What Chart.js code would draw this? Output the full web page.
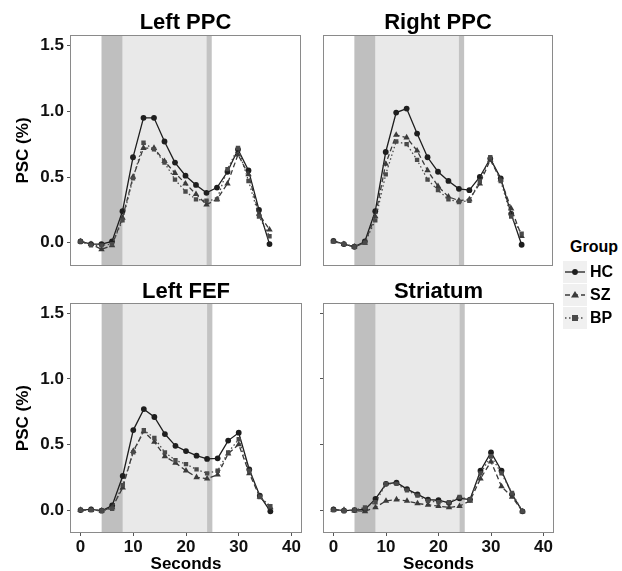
<!DOCTYPE html>
<html><head><meta charset="utf-8">
<script src="https://cdn.jsdelivr.net/npm/chart.js@4"></script>
<style>
html,body{margin:0;padding:0;width:622px;height:571px;overflow:hidden;background:#fff;font-family:"Liberation Sans",Arial,sans-serif;}
.c{position:absolute;}
.t{position:absolute;font-weight:bold;font-size:22px;line-height:22px;color:#000;white-space:nowrap;transform:translateX(-50%);}
.lg{position:absolute;font-weight:bold;font-size:16px;line-height:16px;color:#000;white-space:nowrap;}
.key{position:absolute;}
</style></head><body>
<div id="holder"></div>
<div class="t" style="left:185.5px;top:11px">Left PPC</div>
<div class="t" style="left:438px;top:11px">Right PPC</div>
<div class="t" style="left:186px;top:280px">Left FEF</div>
<div class="t" style="left:438.5px;top:280px">Striatum</div>
<div class="lg" style="left:570px;top:239px">Group</div>
<canvas id="k0" class="key" width="24" height="22" style="left:563px;top:261px"></canvas>
<canvas id="k1" class="key" width="24" height="22" style="left:563px;top:284px"></canvas>
<canvas id="k2" class="key" width="24" height="22" style="left:563px;top:307px"></canvas>
<div class="lg" style="left:590px;top:264px">HC</div>
<div class="lg" style="left:590px;top:287px">SZ</div>
<div class="lg" style="left:590px;top:310px">BP</div>
<script>
// ---- data ----
const seconds = [0,2,4,6,8,10,12,14,16,18,20,22,24,26,28,30,32,34,36];
const groups = ["HC","SZ","BP"];
const xTicks = [0,10,20,30,40];
const yTicks = [0,0.5,1.0,1.5];
const bandStart = [8,4,24];
const bandEnd   = [24,8,25];

const leftPPC_HC = [0.01,-0.01,-0.01,0.01,0.24,0.65,0.95,0.95,0.77,0.61,0.51,0.44,0.38,0.42,0.54,0.71,0.55,0.25,-0.01];
const leftPPC_SZ = [0.01,-0.01,-0.05,-0.02,0.19,0.50,0.72,0.72,0.62,0.53,0.45,0.37,0.29,0.33,0.45,0.67,0.52,0.22,0.10];
const leftPPC_BP = [0.01,-0.02,-0.02,-0.01,0.17,0.49,0.76,0.71,0.61,0.48,0.39,0.33,0.32,0.33,0.56,0.72,0.47,0.20,0.05];

const rightPPC_HC = [0.015,-0.01,-0.03,0.01,0.24,0.69,0.99,1.02,0.83,0.65,0.54,0.47,0.41,0.40,0.50,0.64,0.49,0.22,-0.015];
const rightPPC_SZ = [0.01,-0.01,-0.03,0.00,0.20,0.60,0.82,0.80,0.70,0.55,0.43,0.35,0.32,0.33,0.45,0.63,0.48,0.26,0.05];
const rightPPC_BP = [0.01,-0.01,-0.03,0.00,0.17,0.52,0.77,0.75,0.63,0.48,0.40,0.33,0.31,0.32,0.47,0.65,0.47,0.20,0.07];

const leftFEF_HC = [0.00,0.005,-0.005,0.035,0.26,0.61,0.77,0.71,0.58,0.49,0.45,0.415,0.39,0.395,0.53,0.59,0.31,0.11,-0.01];
const leftFEF_SZ = [0.00,0.00,-0.005,0.02,0.17,0.45,0.60,0.52,0.41,0.36,0.30,0.25,0.24,0.27,0.43,0.50,0.28,0.10,0.02];
const leftFEF_BP = [0.00,0.00,-0.005,0.01,0.19,0.44,0.61,0.55,0.44,0.38,0.35,0.31,0.28,0.30,0.44,0.54,0.30,0.10,0.03];

const striatum_HC = [0.005,-0.005,0.00,0.005,0.085,0.20,0.21,0.16,0.12,0.08,0.075,0.055,0.09,0.08,0.30,0.44,0.30,0.12,-0.01];
const striatum_SZ = [0.00,0.00,-0.005,-0.01,0.02,0.07,0.08,0.07,0.05,0.04,0.03,0.02,0.03,0.07,0.24,0.37,0.18,0.10,-0.01];
const striatum_BP = [0.00,-0.005,0.00,0.02,0.06,0.20,0.20,0.15,0.11,0.07,0.06,0.06,0.10,0.08,0.28,0.41,0.28,0.13,-0.01];

// ---- styles ----
const FONT = '"Liberation Sans", Arial, sans-serif';
const bandColors = ['#e9e9e9','#bfbfbf','#c3c3c3'];
const groupStyle = {
  HC:{color:'#1e1e1e', dash:[], point:'circle', r:2.9},
  SZ:{color:'#3a3a3a', dash:[5,3], point:'triangle', r:3.7},
  BP:{color:'#4a4a4a', dash:[1.5,2.5], point:'rect', r:3.1}
};

const panelPlugin = {
  id:'panel',
  beforeDatasetsDraw(chart){
    const {ctx, chartArea:a, scales:{x}} = chart;
    ctx.save();
    for (let i=0;i<bandStart.length;i++){
      const x0 = x.getPixelForValue(bandStart[i]);
      const x1 = x.getPixelForValue(bandEnd[i]);
      ctx.fillStyle = bandColors[i];
      ctx.fillRect(x0, a.top, x1-x0, a.bottom-a.top);
    }
    ctx.restore();
  },
  afterDraw(chart){
    const {ctx, chartArea:a} = chart;
    ctx.save();
    ctx.strokeStyle = '#8a8a8a';
    ctx.lineWidth = 1;
    ctx.strokeRect(Math.round(a.left)+0.5, Math.round(a.top)+0.5, Math.round(a.right-a.left)-1, Math.round(a.bottom-a.top)-1);
    ctx.restore();
  }
};

function buildConfig(series, opt){
  const datasets = groups.map((g,gi)=>{
    const s = groupStyle[g];
    return {
      label:g,
      data: seconds.map((t,i)=>({x:t, y:series[gi][i]})),
      borderColor:s.color, backgroundColor:s.color,
      borderWidth:1.3, borderDash:s.dash,
      pointStyle:s.point, pointRadius:s.r, pointBorderWidth:0,
      pointBackgroundColor:s.color, tension:0, order: 3-gi
    };
  });
  return {
    type:'line',
    data:{datasets},
    plugins:[panelPlugin],
    options:{
      responsive:false, maintainAspectRatio:false, animation:false, devicePixelRatio:1,
      layout:{padding:0},
      plugins:{legend:{display:false}, tooltip:{enabled:false}},
      scales:{
        x:{
          type:'linear', min:-2, max:42, display:opt.showX,
          afterBuildTicks:(s)=>{ s.ticks = xTicks.map(v=>({value:v})); },
          afterFit:(s)=>{ s.height = opt.showX ? 42 : 0; },
          border:{display:false},
          grid:{drawOnChartArea:false, drawTicks:true, tickLength:3, color:'#555', lineWidth:1},
          ticks:{font:{family:FONT,size:17,weight:'bold'}, color:'#111', padding:1, maxRotation:0},
          title:{display:true, text:'Seconds', font:{family:FONT,size:17,weight:'bold'}, color:'#000', padding:0}
        },
        y:{
          type:'linear', min:-0.175, max:1.578,
          afterBuildTicks:(s)=>{ s.ticks = yTicks.map(v=>({value:v})); },
          afterFit:(s)=>{ s.width = opt.showY ? 70 : 10; },
          border:{display:false},
          grid:{display:opt.yTickMarks, drawOnChartArea:false, drawTicks:true, tickLength:3, color:'#555', lineWidth:1},
          ticks:{font:{family:FONT,size:17,weight:'bold'}, color:'#111', padding:3,
                 callback:(v)=> opt.showY ? Number(v).toFixed(1) : ''},
          title:{display:opt.showY, text:'PSC (%)', font:{family:FONT,size:17,weight:'bold'}, color:'#000', padding:{top:12.8,bottom:0}}
        }
      }
    }
  };
}

// place a chart so that its plot area lands on the target panel rectangle
function makeChart(target, series, opt){
  const holder = document.getElementById('holder');
  let W = (target.r - target.l) + 90, H = (target.b - target.t) + 70;
  let cv, chart;
  for (let pass=0; pass<2; pass++){
    if (chart) { chart.destroy(); cv.remove(); }
    cv = document.createElement('canvas');
    cv.className = 'c';
    cv.width = W; cv.height = H;
    cv.style.width = W+'px'; cv.style.height = H+'px';
    holder.appendChild(cv);
    chart = new Chart(cv, buildConfig(series, opt));
    const a = chart.chartArea;
    W += (target.r - target.l) - (a.right - a.left);
    H += (target.b - target.t) - (a.bottom - a.top);
  }
  const a = chart.chartArea;
  cv.style.left = (target.l - a.left)+'px';
  cv.style.top = (target.t - a.top)+'px';
  return chart;
}

makeChart({l:70,t:35,r:301,b:266}, [leftPPC_HC,leftPPC_SZ,leftPPC_BP], {showX:false, showY:true, yTickMarks:true});
makeChart({l:323,t:35,r:553,b:266}, [rightPPC_HC,rightPPC_SZ,rightPPC_BP], {showX:false, showY:false, yTickMarks:false});
makeChart({l:70,t:303,r:302,b:533}, [leftFEF_HC,leftFEF_SZ,leftFEF_BP], {showX:true, showY:true, yTickMarks:true});
makeChart({l:323,t:303,r:554,b:533}, [striatum_HC,striatum_SZ,striatum_BP], {showX:true, showY:false, yTickMarks:true});

// legend keys
groups.forEach((g,i)=>{
  const s = groupStyle[g];
  const k = document.getElementById('k'+i).getContext('2d');
  k.fillStyle = '#f0f0f0'; k.fillRect(0,0,24,22);
  k.strokeStyle = s.color; k.lineWidth = 1.3; k.setLineDash(s.dash);
  k.beginPath(); k.moveTo(2,11); k.lineTo(22,11); k.stroke();
  k.setLineDash([]); k.fillStyle = s.color;
  if (s.point==='circle'){ k.beginPath(); k.arc(12,11,2.9,0,Math.PI*2); k.fill(); }
  else if (s.point==='triangle'){ k.beginPath(); k.moveTo(12,7); k.lineTo(16,13.5); k.lineTo(8,13.5); k.closePath(); k.fill(); }
  else { k.fillRect(9,8,6,6); }
});
</script>
</body></html>
